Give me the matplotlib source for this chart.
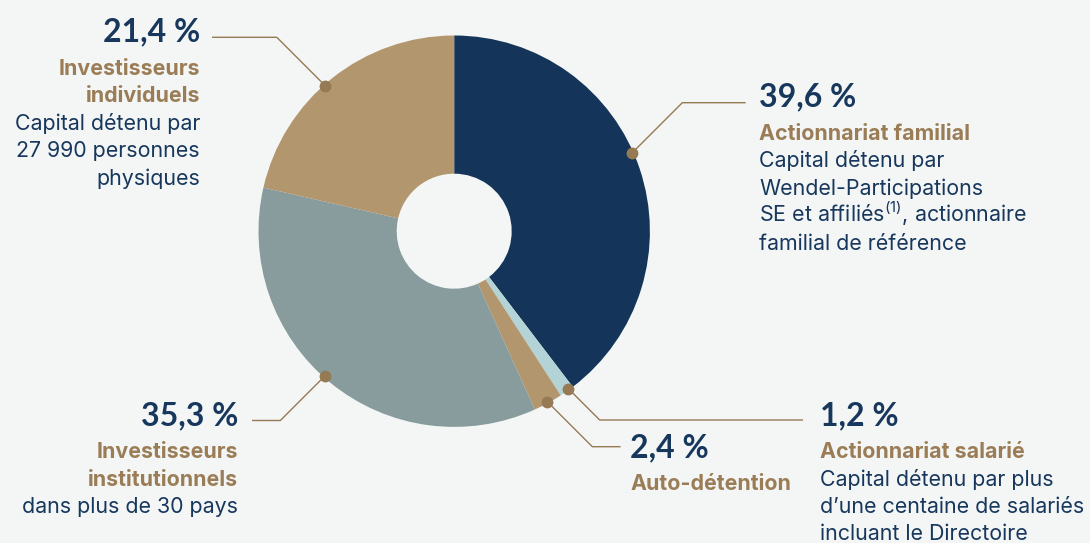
"""Shareholding structure donut: share of capital by holder type."""
import matplotlib.pyplot as plt
import numpy as np

BG = "#f4f6f6"
NAVY = "#143559"
LIGHT_BLUE = "#b3d3d7"
TAN = "#b2966e"
GREY = "#889c9e"
LEADER = "#957a54"
TITLE_INK = "#9a7d56"
TEXT_INK = "#17375c"

# data, in pie order (clockwise from 12 o'clock)
shares = [39.6, 1.2, 2.4, 35.3, 21.4]
share_labels = ["39,6 %", "1,2 %", "2,4 %", "35,3 %", "21,4 %"]
titles = [
    ["Actionnariat familial"],
    ["Actionnariat salarié"],
    ["Auto-détention"],
    ["Investisseurs", "institutionnels"],
    ["Investisseurs", "individuels"],
]
descriptions = [
    ["Capital détenu par", "Wendel-Participations",
     "SE et affiliés$^{(1)}$, actionnaire", "familial de référence"],
    ["Capital détenu par plus", "d\u2019une centaine de salariés",
     "incluant le Directoire"],
    [],
    ["dans plus de 30 pays"],
    ["Capital détenu par", "27 990 personnes", "physiques"],
]
colors = [NAVY, LIGHT_BLUE, TAN, GREY, TAN]

# layout, in pixels from the top-left corner
W, H = 1090, 543
CX, CY, R, R_HOLE = 454.2, 231.2, 195.7, 57.5
# (dot angle offset, leader y, leader end x, side, text x, pct baseline)
callouts = [
    (5.1, 102.7, 745.7, 1, 759, 106.7),
    (0.8, 420.0, 803.0, 1, 820, 425.0),
    (0.0, 446.7, 620.6, 1, 630, 457.0),
    (-2.5, 420.5, 252.0, -1, 238, 425.0),
    (3.0, 37.3, 212.0, -1, 200, 41.7),
]

BODY_FONT = ["Inter", "DejaVu Sans"]
PCT_FONT = ["Lato", "DejaVu Sans"]


def Y(py):
    return H - py


def main():
    plt.rcParams["font.family"] = BODY_FONT
    plt.rcParams["mathtext.fontset"] = "custom"
    plt.rcParams["mathtext.rm"] = "Inter"
    plt.rcParams["mathtext.it"] = "Inter"
    plt.rcParams["mathtext.bf"] = "Inter:bold"

    fig = plt.figure(figsize=(W / 100, H / 100), dpi=100, facecolor=BG)
    ax = fig.add_axes([0, 0, 1, 1])
    ax.set_facecolor(BG)

    wedges, _ = ax.pie(shares, colors=colors, startangle=90, counterclock=False,
                       radius=R, center=(CX, Y(CY)), frame=True,
                       wedgeprops=dict(width=R - R_HOLE, linewidth=0))
    ax.set_xlim(0, W)
    ax.set_ylim(0, H)
    ax.set_aspect("equal")
    ax.axis("off")

    for w, pct, title, desc, (off, ly, ex, side, tx, pb) in zip(
            wedges, share_labels, titles, descriptions, callouts):
        theta = np.deg2rad((w.theta1 + w.theta2) / 2 + off)
        dx = CX + 0.993 * R * np.cos(theta)
        dy = CY - 0.993 * R * np.sin(theta)
        elbow_x = dx + side * abs(ly - dy)
        ax.plot([dx, elbow_x, ex], [Y(dy), Y(ly), Y(ly)], color=LEADER,
                linewidth=1.0, solid_capstyle="butt", zorder=3)
        ax.plot(dx, Y(dy), "o", color=LEADER, markersize=7.5, zorder=4)

        ha = "left" if side > 0 else "right"
        ax.text(tx, Y(pb), pct, ha=ha, va="baseline", fontsize=23,
                fontweight="bold", color=TEXT_INK, family=PCT_FONT)
        lines = [(t, TITLE_INK, "bold") for t in title] + \
                [(d, TEXT_INK, "normal") for d in desc]
        for i, (txt, col, wt) in enumerate(lines):
            ax.text(tx, Y(pb + 33.0 + 27.5 * i), txt, ha=ha, va="baseline",
                    fontsize=15.4, fontweight=wt, color=col)

    fig.savefig("out.png", dpi=100, facecolor=BG)
    plt.close(fig)


if __name__ == "__main__":
    main()
